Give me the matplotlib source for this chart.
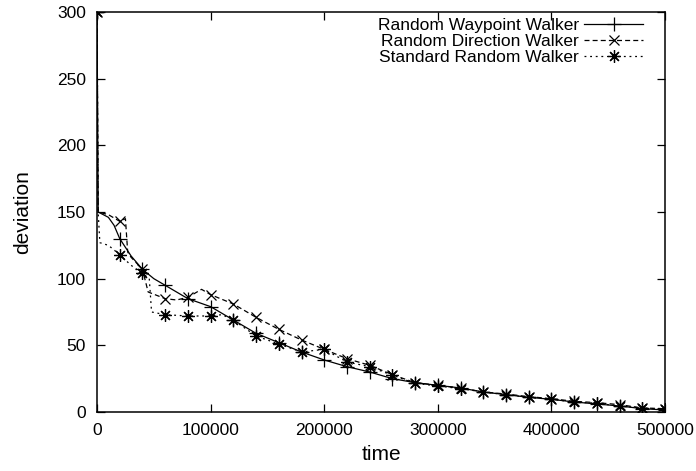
import numpy as np
import matplotlib
matplotlib.use("Agg")
import matplotlib.pyplot as plt

plt.rcParams['font.family'] = ['Liberation Sans', 'DejaVu Sans']

tail_x = [120000, 140000, 160000, 180000, 200000, 220000, 240000, 260000, 280000,
          300000, 320000, 340000, 360000, 380000, 400000, 420000, 440000, 460000,
          480000, 500000]

# Random Waypoint Walker
wp_x = [0, 1000, 10000, 15000, 20000, 30000, 40000, 50000, 60000, 70000, 80000,
        90000, 100000] + tail_x
wp_y = [300, 150, 146, 140, 130, 117, 107, 100, 95, 90, 85, 82, 79,
        69, 59, 52, 45, 39, 34, 30, 25, 22, 20, 18, 15, 13, 11, 9.5, 7.5, 6, 4.5, 2.5, 1.5]

# Random Direction Walker
rd_x = [0, 1000, 10000, 20000, 25000, 27000, 30000, 40000, 45000, 60000, 70000,
        80000, 92000, 100000] + tail_x
rd_y = [300, 150, 148, 143, 145, 120, 116, 107, 90, 85, 84, 86, 92, 88,
        81, 71, 62, 54, 47, 40, 35, 28, 22, 20, 18, 15, 13.5, 11.5, 10, 8, 7, 5.5, 3, 2.5]

# Standard Random Walker
sr_x = [0, 1000, 2500, 10000, 20000, 30000, 40000, 46000, 48000, 60000, 80000,
        100000, 110000] + tail_x
sr_y = [300, 150, 127, 125, 118, 110, 104, 100, 75, 73, 72, 72, 73,
        69, 57, 51, 45, 47, 37.5, 34, 27.5, 21.5, 19.5, 17.5, 15, 13, 11, 9.5, 7.5, 6.5, 4.5, 3, 2]

series = [
    ("Random Waypoint Walker", wp_x, wp_y, '-', '+', 10),
    ("Random Direction Walker", rd_x, rd_y, (0, (4, 2.5)), 'x', 7.5),
    ("Standard Random Walker", sr_x, sr_y, (0, (1.5, 3)), (8, 2, 0), 9),
]

fig = plt.figure(figsize=(6.96, 4.71), dpi=100)
ax = fig.add_axes([0.1394, 0.1253, 0.8161, 0.8492])

for label, xs, ys, ls, mk, ms in series:
    xs = np.array(xs)
    marks = list(np.where(xs % 20000 == 0)[0])
    ax.plot(xs, ys, color='black', lw=0.9, linestyle=ls, marker=mk, markersize=ms,
            markeredgewidth=0.9, markevery=marks, label=label)

ax.set_xlim(0, 500000)
ax.set_ylim(0, 300)
ax.set_xticks(np.arange(0, 500001, 100000))
ax.set_yticks(np.arange(0, 301, 50))
ax.tick_params(direction='in', length=6, width=0.9, top=True, right=True,
               labelsize=12.5, pad=8)
for s in ax.spines.values():
    s.set_linewidth(1.1)

ax.set_xlabel("time", fontsize=15, labelpad=5)
ax.set_ylabel("deviation", fontsize=15, labelpad=18)

ax.legend(loc='upper right', bbox_to_anchor=(0.962, 0.985), frameon=False,
          markerfirst=False, fontsize=12.5, handlelength=3.4, handletextpad=0.3,
          labelspacing=0.05, borderpad=0, borderaxespad=0)

fig.savefig("out.png", dpi=100)
